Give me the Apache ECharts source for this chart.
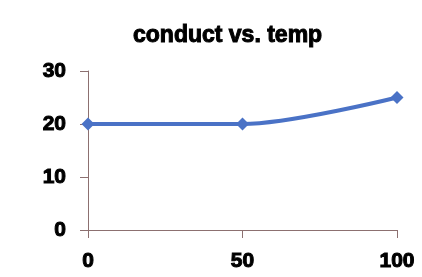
<!DOCTYPE html>
<html>
<head>
<meta charset="utf-8">
<script src="https://cdn.jsdelivr.net/npm/echarts@6/dist/echarts.min.js"></script>
<style>
	html, body { margin: 0; padding: 0; background: #fff; }
	#main { width: 422px; height: 277px; }
</style>
</head>
<body>
<div id="main"></div>
<script>
// 数据
var temps = [0, 50, 100];
var conduct = [20, 20, 25];
var xTicks = [0, 50, 100];
var yTicks = [0, 10, 20, 30];

var axisColor = '#8c7070';
var lineColor = '#4a72c6';
var font = '"Liberation Sans", Arial, sans-serif';

var points = [];
for (var i = 0; i < temps.length; i++) {
	points.push([temps[i], conduct[i]]);
}

// 粗体文字（加描边使其更粗）
function heavy(size) {
	return {
		fontFamily: font,
		fontSize: size,
		fontWeight: 'bold',
		color: '#000',
		textBorderColor: '#000',
		textBorderWidth: 1
	};
}

var myChart = echarts.init(document.getElementById('main'));
var option = {
	animation: false,
	title: {
		text: 'conduct vs. temp',
		left: 128,
		top: 19,
		textStyle: heavy(23)
	},
	grid: {
		left: 88,
		right: 25,
		top: 71,
		bottom: 47
	},
	xAxis: {
		type: 'value',
		min: xTicks[0],
		max: xTicks[xTicks.length - 1],
		interval: 50,
		splitLine: { show: false },
		axisLine: { lineStyle: { color: axisColor, width: 1 } },
		axisTick: { show: true, length: 8, lineStyle: { color: axisColor } },
		axisLabel: Object.assign({ margin: 21 }, heavy(21))
	},
	yAxis: {
		type: 'value',
		min: yTicks[0],
		max: yTicks[yTicks.length - 1],
		interval: 10,
		splitLine: { show: false },
		axisLine: { show: true, lineStyle: { color: axisColor, width: 1 } },
		axisTick: { show: true, length: 8, lineStyle: { color: axisColor } },
		axisLabel: Object.assign({ margin: 22 }, heavy(21))
	},
	series: [{
		name: 'conduct',
		type: 'line',
		smooth: 0.3,
		symbol: 'diamond',
		symbolSize: 13,
		data: points,
		lineStyle: { color: lineColor, width: 4 },
		itemStyle: { color: lineColor }
	}]
};
myChart.setOption(option);
</script>
</body>
</html>
